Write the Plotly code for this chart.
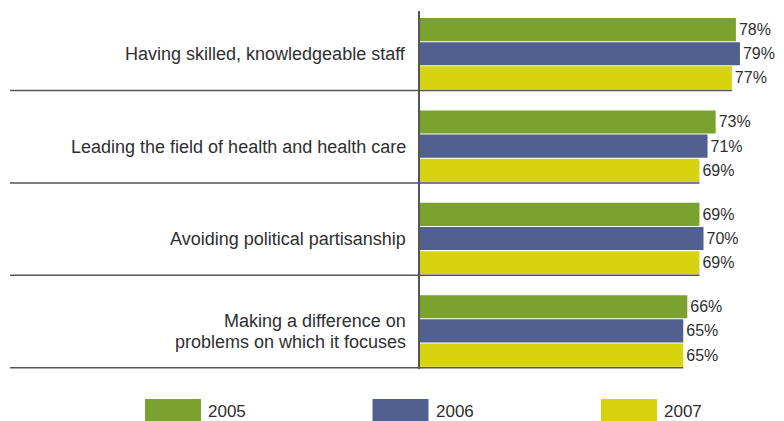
import plotly.graph_objects as go

# ---- data -------------------------------------------------------------
categories = [
    "Having skilled, knowledgeable staff",
    "Leading the field of health and health care",
    "Avoiding political partisanship",
    "Making a difference on<br>problems on which it focuses",
]
years = ["2005", "2006", "2007"]
values_2005 = [78, 73, 69, 66]
values_2006 = [79, 71, 70, 65]
values_2007 = [77, 69, 69, 65]
colors = ["#7ba12f", "#52608f", "#d6d30f"]

# ---- layout geometry --------------------------------------------------
W, H = 784, 421
L, T, B = 420, 11, 52
plot_w = W - L
plot_h = H - T - B
FONT = "Liberation Sans, Arial, sans-serif"
TEXT = "#2f2f2f"
LINE = "#555555"


def px_x(px):
    return (px - L) / plot_w


def px_y(py):
    return (H - B - py) / plot_h


series = [values_2005, values_2006, values_2007]
idx = list(range(len(categories)))
bar_w = 0.2615          # thickness of one bar in category units
gap = 0.011             # thin white gap between bars

fig = go.Figure()
for k, (name, vals, col) in enumerate(zip(years, series, colors)):
    fig.add_trace(go.Bar(
        y=idx, x=vals, orientation="h", name=name,
        offset=0.5 - bar_w * (3 - k), width=bar_w - gap,
        marker=dict(color=col, line=dict(width=0)),
        texttemplate="%{x}%", textposition="outside",
        textfont=dict(family=FONT, size=16, color=TEXT),
        constraintext="none", cliponaxis=False, showlegend=False,
        hoverinfo="skip",
    ))

shapes = []
annotations = []
blue_center = 0.5 - bar_w * 2 + bar_w / 2

for i, cat in enumerate(categories):
    # separator under each group, from the left edge to the axis
    shapes.append(dict(type="line", xref="paper", yref="y",
                       x0=px_x(10), x1=0, y0=i + 0.5, y1=i + 0.5,
                       line=dict(color=LINE, width=1.5), layer="above"))
    # continues along the bottom of the 2007 bar
    shapes.append(dict(type="line", xref="x", yref="y",
                       x0=0, x1=values_2007[i], y0=i + 0.5, y1=i + 0.5,
                       line=dict(color=LINE, width=1.5), layer="above"))
    lines = cat.split("<br>")
    n = len(lines)
    for j, ln in enumerate(lines):
        annotations.append(dict(
            text=ln, xref="paper", yref="y", x=0, y=i + blue_center,
            xanchor="right", yanchor="middle", xshift=-12,
            yshift=((n - 1) / 2 - j) * 21.5, showarrow=False,
            font=dict(family=FONT, size=18, color=TEXT)))

# legend drawn as large swatches below the plot
swatch_left = [145, 372.5, 601]
for k, name in enumerate(years):
    x0 = swatch_left[k]
    shapes.append(dict(type="rect", xref="paper", yref="paper",
                       x0=px_x(x0), x1=px_x(x0 + 56),
                       y0=px_y(421), y1=px_y(399),
                       fillcolor=colors[k], line=dict(width=0)))
    annotations.append(dict(
        text=name, xref="paper", yref="paper", x=px_x(x0 + 61), y=px_y(411.5),
        xanchor="left", yanchor="middle", showarrow=False,
        font=dict(family=FONT, size=17, color=TEXT)))

fig.update_layout(
    width=W, height=H,
    margin=dict(l=L, r=0, t=T, b=B, pad=0),
    paper_bgcolor="white", plot_bgcolor="white",
    barmode="overlay",
    xaxis=dict(range=[0, plot_w / 4.05], visible=False, fixedrange=True),
    yaxis=dict(range=[0.5 + (H - B - 90.5) / 92.4, 0.5 + (T - 90.5) / 92.4],
               showline=True, linecolor=LINE, linewidth=2,
               showticklabels=False, showgrid=False, zeroline=False,
               ticks="", fixedrange=True),
    shapes=shapes, annotations=annotations,
    font=dict(family=FONT, color=TEXT),
)

fig.write_html("out.html")
